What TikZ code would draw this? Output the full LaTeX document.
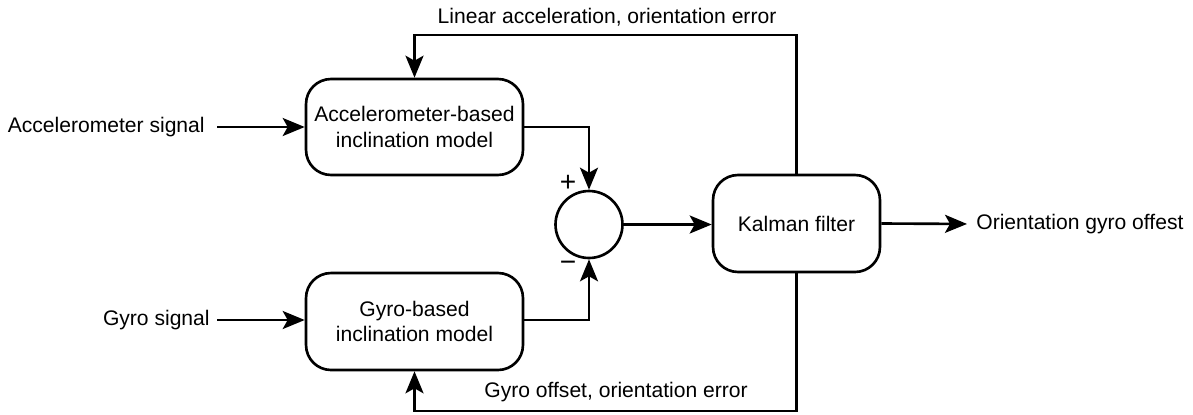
\documentclass[tikz,border=0pt]{standalone}
\usepackage{fontspec}
\setmainfont{Liberation Sans}
\usetikzlibrary{arrows.meta}
\begin{document}
\begin{tikzpicture}[x=0.02cm,y=-0.02cm,
  every node/.style={font=\fontsize{12}{14.6}\selectfont},
  blk/.style={draw, line width=1.5pt, rounded corners=0.5cm, align=center, inner sep=0pt},
  arr/.style={line width=1.5pt, -{Stealth[length=0.44cm,width=0.36cm,inset=0.1cm]}},
  lbl/.style={inner sep=0pt},
  sign/.style={inner sep=0pt, font=\fontsize{16}{18}\selectfont}]
\useasboundingbox (0,0) rectangle (1193,414);
% blocks
\node[blk, minimum width=4.34cm, minimum height=1.92cm] (acc) at (414.5,127) {Accelerometer-based\\inclination model};
\node[blk, minimum width=4.34cm, minimum height=1.94cm] (gyro) at (414.5,321.5) {Gyro-based\\inclination model};
\node[draw, circle, line width=1.5pt, minimum size=1.34cm, inner sep=0pt] (sum) at (589,224.5) {};
\node[blk, minimum width=3.34cm, minimum height=1.94cm] (kal) at (796.5,223.5) {Kalman filter};
% external texts
\node[lbl, anchor=east] (accin) at (205,127) {Accelerometer signal};
\node[lbl, anchor=east] (gyroin) at (210,320) {Gyro signal};
\node[lbl, anchor=west] (out) at (976,224) {Orientation gyro offest};
\node[sign] (plus) at (568,183) {+};
\node[sign] (minus) at (568,266) {−};
\node[lbl] (toplbl) at (607,17) {Linear acceleration, orientation error};
\node[lbl] (botlbl) at (616,392) {Gyro offset, orientation error};
% coordinates
\coordinate (tl) at (414.5,35);
\coordinate (bl) at (414.5,411);
\coordinate (ain) at (217,127);
\coordinate (gin) at (217,320);
% connectors
\draw[arr] (ain) -- (acc.west);
\draw[arr] (gin) -- (gyro.west |- gin);
\draw[arr] (acc.east) -| (sum.north);
\draw[arr] (gyro.east |- 0,320) -| (sum.south);
\draw[arr] (sum.east) -- (kal.west |- sum.east);
\draw[arr, shorten >=0.18cm] (kal.east) -- (out.west);
\draw[arr] (kal.north) |- (tl) -- (acc.north);
\draw[arr] (kal.south) |- (bl) -- (gyro.south);
\end{tikzpicture}
\end{document}
